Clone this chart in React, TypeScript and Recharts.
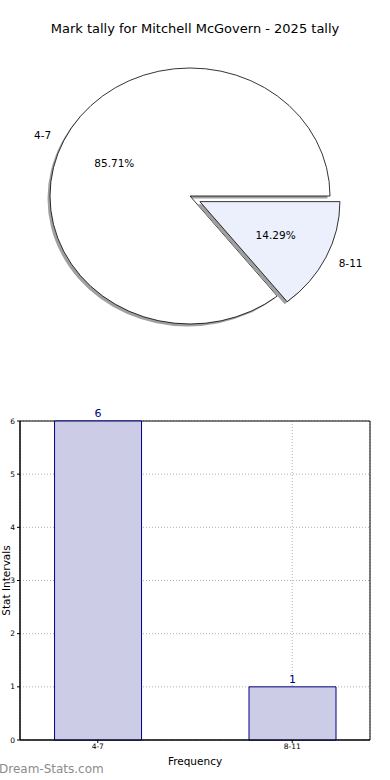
import {
  Bar,
  BarChart,
  CartesianGrid,
  LabelList,
  Pie,
  PieChart,
  ReferenceArea,
  XAxis,
  YAxis,
} from 'recharts'

const categories = ['4-7', '8-11']
const counts = [6, 1]
const sliceColors = ['#ffffff', '#ebf0fc']
const yTicks = [0, 1, 2, 3, 4, 5, 6]

const pieData = categories.map((name, i) => ({ name, value: counts[i] }))
const barData = categories.map((name, i) => ({ x: i, name, value: counts[i] }))

const FONT = '"DejaVu Sans", sans-serif'
const RAD = Math.PI / 180
// pie is drawn squashed, like the original (axes not square)
const Y_SCALE = 128 / 140

function explodeOffset(name: string, mid: number) {
  if (name !== '8-11') return [0, 0]
  return [11 * Math.cos(mid * RAD), -13 * Math.sin(mid * RAD)]
}

function sectorPath(cx: number, cy: number, r: number, start: number, end: number) {
  const x1 = cx + r * Math.cos(start * RAD)
  const y1 = cy - r * Y_SCALE * Math.sin(start * RAD)
  const x2 = cx + r * Math.cos(end * RAD)
  const y2 = cy - r * Y_SCALE * Math.sin(end * RAD)
  const large = Math.abs(end - start) > 180 ? 1 : 0
  return `M ${cx} ${cy} L ${x1} ${y1} A ${r} ${r * Y_SCALE} 0 ${large} 0 ${x2} ${y2} Z`
}

function renderSector(props: any) {
  const { cx, cy, outerRadius, startAngle, endAngle, midAngle, name } = props
  const [ox, oy] = explodeOffset(name, midAngle)
  const idx = categories.indexOf(name)
  return (
    <g>
      <path
        d={sectorPath(cx + ox - 2.5, cy + oy + 2.5, outerRadius, startAngle, endAngle)}
        fill="#a0a0a0"
        stroke="none"
      />
      <path
        d={sectorPath(cx + ox, cy + oy, outerRadius, startAngle, endAngle)}
        fill={sliceColors[idx]}
        stroke="#000"
        strokeWidth={0.8}
      />
    </g>
  )
}

function renderPieLabel(props: any) {
  const { cx, cy, midAngle, outerRadius, percent, name } = props
  const [ox, oy] = explodeOffset(name, midAngle)
  const c = Math.cos(midAngle * RAD)
  const s = Math.sin(midAngle * RAD)
  const lx = cx + ox + 1.1 * outerRadius * c
  const ly = cy + oy - 1.1 * outerRadius * Y_SCALE * s
  const px = cx + ox + 0.6 * outerRadius * c
  const py = cy + oy - 0.6 * outerRadius * Y_SCALE * s
  return (
    <g fontFamily={FONT} fontSize={10.5} fill="#000">
      <text x={lx} y={ly} textAnchor={c < 0 ? 'end' : 'start'} dominantBaseline="central">
        {name}
      </text>
      <text x={px} y={py} textAnchor="middle" dominantBaseline="central">
        {(percent * 100).toFixed(2)}%
      </text>
    </g>
  )
}

export default function App() {
  return (
    <div style={{ position: 'relative', width: 390, height: 780, fontFamily: FONT, overflow: 'hidden' }}>
      <style>{'body{margin:0}'}</style>
      <div
        style={{
          position: 'absolute',
          top: 21,
          left: 0,
          width: 390,
          textAlign: 'center',
          fontSize: 13,
          color: '#000',
        }}
      >
        Mark tally for Mitchell McGovern - 2025 tally
      </div>

      <div style={{ position: 'absolute', top: 0, left: 0 }}>
        <PieChart width={390} height={370} margin={{ top: 0, right: 0, bottom: 0, left: 0 }}>
          <Pie
            data={pieData}
            dataKey="value"
            nameKey="name"
            cx={190}
            cy={196}
            outerRadius={140}
            startAngle={0}
            endAngle={360}
            labelLine={false}
            label={renderPieLabel}
            shape={renderSector}
            isAnimationActive={false}
          />
        </PieChart>
      </div>

      <div style={{ position: 'absolute', top: 380, left: 0 }}>
        <BarChart width={390} height={400} data={barData} margin={{ top: 41, right: 20, left: 0, bottom: 0 }}>
          <XAxis
            type="number"
            dataKey="x"
            domain={[-0.4, 1.4]}
            ticks={[0, 1]}
            tickFormatter={(v) => categories[v] ?? ''}
            height={40}
            tick={{ fontSize: 7.5, fill: '#000', fontFamily: FONT }}
            tickSize={3}
            tickMargin={1}
            stroke="#000"
            label={{ value: 'Frequency', position: 'insideBottom', offset: 15, fontSize: 10.5, fill: '#000', fontFamily: FONT }}
          />
          <YAxis
            domain={[0, 6]}
            ticks={yTicks}
            width={20}
            tick={{ fontSize: 7.5, fill: '#000', fontFamily: FONT }}
            tickSize={3}
            tickMargin={2}
            stroke="#000"
            label={{ value: 'Stat Intervals', angle: -90, position: 'center', dx: -4, fontSize: 10.5, fill: '#000', fontFamily: FONT }}
          />
          <Bar dataKey="value" barSize={87} fill="#ccccE6" stroke="#000080" strokeWidth={1} isAnimationActive={false}>
            <LabelList dataKey="value" position="top" offset={4} fill="#000080" fontSize={11} fontFamily={FONT} />
          </Bar>
          <CartesianGrid stroke="#b0b0b0" strokeDasharray="1 2" />
          <ReferenceArea x1={-0.4} x2={1.4} y1={0} y2={6} fill="none" stroke="#000" strokeWidth={1} />
        </BarChart>
      </div>

      <div
        style={{
          position: 'absolute',
          top: 762,
          left: -1,
          fontSize: 12,
          color: '#8c8c8c',
        }}
      >
        Dream-Stats.com
      </div>
    </div>
  )
}
